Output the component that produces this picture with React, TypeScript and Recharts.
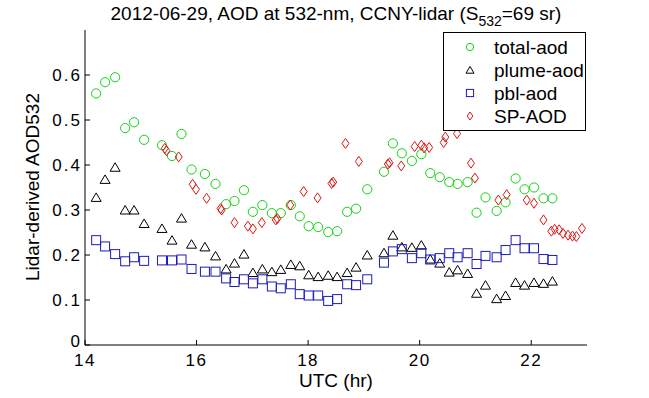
import { ScatterChart, Scatter, XAxis, YAxis, Legend, Label } from "recharts"

// sample times (UTC hours) shared by total / plume / pbl
const TIME_HR = [
  14.2, 14.36, 14.54, 14.72, 14.88, 15.06, 15.38, 15.56, 15.73, 15.91,
  16.15, 16.34, 16.53, 16.68, 16.85, 17.01, 17.18, 17.35, 17.51, 17.69,
  17.85, 18.01, 18.18, 18.36, 18.52, 18.7, 18.86, 19.06, 19.36, 19.52,
  19.68, 19.86, 20.03, 20.19, 20.36, 20.53, 20.68, 20.86, 21.02, 21.18,
  21.38, 21.54, 21.72, 21.88, 22.05, 22.22, 22.38,
]
const TOTAL_AOD = [
  0.559, 0.584, 0.595, 0.482, 0.495, 0.456, 0.444, 0.42, 0.469, 0.39,
  0.38, 0.358, 0.313, 0.32, 0.344, 0.296, 0.311, 0.293, 0.293, 0.311,
  0.286, 0.264, 0.262, 0.251, 0.253, 0.296, 0.303, 0.346, 0.385, 0.448,
  0.426, 0.409, 0.424, 0.382, 0.373, 0.362, 0.358, 0.362, 0.294, 0.328,
  0.298, 0.317, 0.37, 0.346, 0.35, 0.326, 0.326,
]
const PLUME_AOD = [
  0.328, 0.368, 0.395, 0.3, 0.3, 0.27, 0.259, 0.233, 0.282, 0.224,
  0.218, 0.198, 0.169, 0.182, 0.202, 0.161, 0.169, 0.163, 0.168, 0.179,
  0.176, 0.156, 0.152, 0.155, 0.152, 0.161, 0.173, 0.2, 0.205, 0.244,
  0.218, 0.217, 0.222, 0.191, 0.182, 0.162, 0.167, 0.159, 0.115, 0.133,
  0.103, 0.11, 0.139, 0.133, 0.139, 0.137, 0.142,
]
const PBL_AOD = [
  0.233, 0.219, 0.202, 0.186, 0.195, 0.187, 0.188, 0.188, 0.19, 0.169,
  0.163, 0.163, 0.148, 0.14, 0.146, 0.137, 0.146, 0.13, 0.126, 0.135,
  0.113, 0.11, 0.11, 0.098, 0.102, 0.135, 0.133, 0.146, 0.183, 0.208,
  0.213, 0.193, 0.204, 0.19, 0.193, 0.204, 0.195, 0.204, 0.18, 0.198,
  0.195, 0.211, 0.233, 0.215, 0.215, 0.191, 0.189,
]
// sun photometer samples have their own times
const SP_TIME_HR = [
  15.43, 15.46, 15.68, 15.93, 15.99, 16.18, 16.43, 16.45, 16.68, 16.92,
  17.01, 17.17, 17.42, 17.45, 17.68, 17.92, 18.17, 18.42, 18.45, 18.67,
  18.91, 19.43, 19.46, 19.67, 19.91, 20.03, 20.08, 20.17, 20.43, 20.46,
  20.67, 20.92, 20.99, 21.41, 21.56, 21.92, 22.05, 22.22, 22.36, 22.42,
  22.5, 22.57, 22.66, 22.74, 22.81, 22.91,
]
const SP_AOD = [
  0.437, 0.432, 0.418, 0.357, 0.346, 0.326, 0.303, 0.3, 0.272, 0.264,
  0.258, 0.272, 0.278, 0.281, 0.311, 0.341, 0.327, 0.359, 0.362, 0.448,
  0.408, 0.402, 0.405, 0.398, 0.441, 0.444, 0.438, 0.439, 0.45, 0.462,
  0.47, 0.404, 0.371, 0.322, 0.334, 0.322, 0.315, 0.278, 0.253, 0.257,
  0.256, 0.248, 0.244, 0.242, 0.241, 0.259,
]

const X_TICKS = [14, 16, 18, 20, 22]
const Y_TICKS = [0, 0.1, 0.2, 0.3, 0.4, 0.5, 0.6]
const LEGEND_NAMES = ["total-aod", "plume-aod", "pbl-aod", "SP-AOD"]

const GREEN = "#14d214"
const BLUE = "#1c1cb8"
const RED = "#e01414"
const FONT = "'Liberation Sans', Arial, Helvetica, sans-serif"

type Kind = "circle" | "triangle" | "square" | "diamond"

const KINDS: Kind[] = ["circle", "triangle", "square", "diamond"]
const KIND_COLOR: Record<Kind, string> = { circle: GREEN, triangle: "#000", square: BLUE, diamond: RED }

function marker(kind: Kind, cx: number, cy: number, s = 1) {
  const c = KIND_COLOR[kind]
  if (kind === "circle") {
    return <circle cx={cx} cy={cy} r={4.6 * s} fill="none" stroke={c} strokeWidth={1} />
  }
  if (kind === "square") {
    return <rect x={cx - 4.5 * s} y={cy - 4.5 * s} width={9 * s} height={9 * s} fill="none" stroke={c} strokeWidth={1} />
  }
  if (kind === "triangle") {
    const pts = `${cx},${cy - 4.5 * s} ${cx - 5 * s},${cy + 4 * s} ${cx + 5 * s},${cy + 4 * s}`
    return <polygon points={pts} fill="none" stroke={c} strokeWidth={1} />
  }
  const pts = `${cx},${cy - 5 * s} ${cx + 3.5 * s},${cy} ${cx},${cy + 5 * s} ${cx - 3.5 * s},${cy}`
  return <polygon points={pts} fill="none" stroke={c} strokeWidth={1} />
}

function shapeFor(kind: Kind) {
  return (p: any) => <g>{marker(kind, p.cx, p.cy)}</g>
}

function toPoints(xs: number[], ys: number[]) {
  return xs.map((x, i) => ({ x, y: ys[i] }))
}

const totalData = toPoints(TIME_HR, TOTAL_AOD)
const plumeData = toPoints(TIME_HR, PLUME_AOD)
const pblData = toPoints(TIME_HR, PBL_AOD)
const spData = toPoints(SP_TIME_HR, SP_AOD)

const xTickStyle = { fill: "#000", fontSize: 17, fontFamily: FONT, letterSpacing: 1.5 }

function yTickFormat(v: number) {
  return v === 0 ? "0" : v.toFixed(1)
}

// y tick labels; the "0" sits a little high so it clears the "14" below it
function YTick(props: any) {
  const v = props.payload.value
  const y = v === 0 ? props.y - 4 : props.y
  return (
    <text x={props.x} y={y} dy="0.355em" textAnchor="end" fontSize={17} fontFamily={FONT} letterSpacing={2} fill="#000">
      {yTickFormat(v)}
    </text>
  )
}

function blank() {
  return ""
}

function LegendBox() {
  return (
    <svg width={141} height={97} style={{ display: "block" }}>
      {LEGEND_NAMES.map((name, i) => (
        <g key={name}>
          {marker(KINDS[i], 26, 14 + i * 23, 0.8)}
          <text x={50} y={21 + i * 23} fontSize={19} fontFamily={FONT} fill="#000">
            {name}
          </text>
        </g>
      ))}
    </svg>
  )
}

function YLabel() {
  return (
    <text
      x={32}
      y={187}
      transform="rotate(-90 32 187)"
      textAnchor="middle"
      dominantBaseline="central"
      fontSize={19}
      fontFamily={FONT}
      fill="#000"
    >
      Lidar-derived AOD532
    </text>
  )
}

const legendStyle = {
  left: 443,
  top: 32,
  width: 143,
  height: 99,
  border: "1px solid #000",
  background: "#fff",
  boxSizing: "border-box" as const,
}

export default function App() {
  return (
    <div style={{ position: "absolute", left: 0, top: 0, width: 649, height: 398, background: "#fff", fontFamily: FONT }}>
      <div
        style={{
          position: "absolute",
          left: 36,
          top: 4,
          width: 600,
          textAlign: "center",
          fontSize: 19,
          lineHeight: "19px",
          color: "#000",
          zIndex: 2,
          whiteSpace: "nowrap",
        }}
      >
        2012-06-29, AOD at 532-nm, CCNY-lidar (S
        <span style={{ fontSize: 14, position: "relative", top: 6 }}>532</span>
        =69 sr)
      </div>
      <ScatterChart width={649} height={398} margin={{ top: 30, right: 62, bottom: 0, left: 0 }}>
        <XAxis
          xAxisId="b"
          type="number"
          dataKey="x"
          domain={[14, 23]}
          ticks={X_TICKS}
          height={53}
          tickSize={-5}
          tickMargin={14}
          stroke="#000"
          tick={xTickStyle}
        >
          <Label value="UTC (hr)" position="insideBottom" offset={11} fill="#000" fontSize={19} fontFamily={FONT} />
        </XAxis>
        <XAxis
          xAxisId="t"
          orientation="top"
          type="number"
          dataKey="x"
          domain={[14, 23]}
          ticks={X_TICKS}
          height={0}
          tickSize={-5}
          tickFormatter={blank}
          stroke="#000"
        />
        <YAxis
          yAxisId="l"
          type="number"
          dataKey="y"
          domain={[0, 0.7]}
          ticks={Y_TICKS}
          width={85}
          tickSize={-5}
          tickMargin={8}
          stroke="#000"
          tick={YTick}
        >
          <Label content={YLabel} />
        </YAxis>
        <YAxis
          yAxisId="r"
          orientation="right"
          type="number"
          dataKey="y"
          domain={[0, 0.7]}
          ticks={Y_TICKS}
          width={0}
          tickSize={-5}
          tickFormatter={blank}
          stroke="#000"
        />
        <Scatter xAxisId="b" yAxisId="l" name="total-aod" data={totalData} shape={shapeFor("circle")} isAnimationActive={false} />
        <Scatter xAxisId="b" yAxisId="l" name="plume-aod" data={plumeData} shape={shapeFor("triangle")} isAnimationActive={false} />
        <Scatter xAxisId="b" yAxisId="l" name="pbl-aod" data={pblData} shape={shapeFor("square")} isAnimationActive={false} />
        <Scatter xAxisId="t" yAxisId="r" name="SP-AOD" data={spData} shape={shapeFor("diamond")} isAnimationActive={false} />
        <Legend layout="vertical" align="center" verticalAlign="middle" wrapperStyle={legendStyle} content={LegendBox} />
      </ScatterChart>
    </div>
  )
}
